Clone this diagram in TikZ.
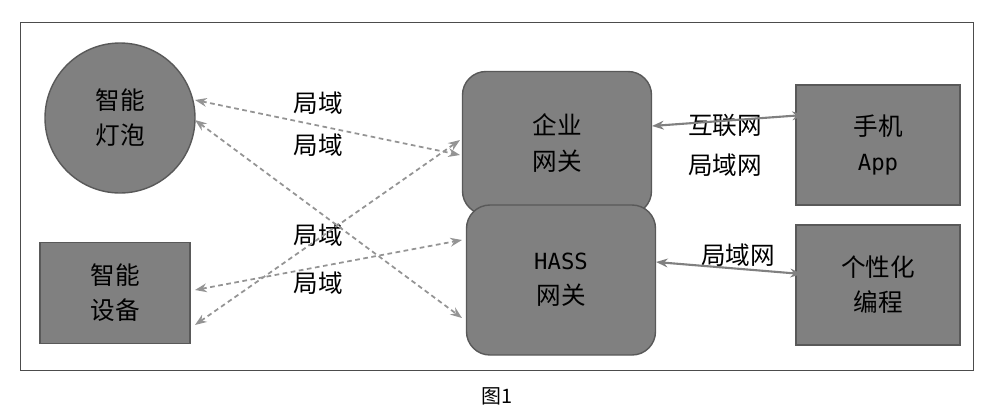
\documentclass[tikz,border=0pt]{standalone}
\usepackage{fontspec}
\setmainfont{Liberation Serif}
\newfontfamily\cjk{Noto Sans CJK SC}
\newfontfamily\monof{DejaVu Sans Mono}
\usetikzlibrary{arrows.meta}
\begin{document}
\begin{tikzpicture}[x=0.03cm,y=-0.03cm,
 box/.style={draw=black!65,line width=1.2pt,fill=black!50,align=center,font=\fontsize{21}{30}\selectfont\cjk},
 da/.style={draw=black!42,line width=1.5pt,dash pattern=on 4pt off 3pt,{Stealth[length=10pt]}-{Stealth[length=10pt]}},
 sa/.style={draw=black!50,line width=1.8pt,{Stealth[length=10pt]}-{Stealth[length=10pt]}},
 lab/.style={font=\fontsize{21}{26}\selectfont\cjk}]
\useasboundingbox (0,0) rectangle (993,418);
\draw[black!70,line width=0.8pt] (20,22) rectangle (973,370);
\node[font=\fontsize{17}{20}\selectfont\cjk] (cap) at (497,396) {图1};
\node[box,circle,minimum size=150*0.03cm,inner sep=0] (bulb) at (120,118) {智能\\灯泡};
\node[box,minimum width=150*0.03cm,minimum height=101*0.03cm] (dev) at (115,293) {智能\\设备};
\node[box,rounded corners=20pt,minimum width=189*0.03cm,minimum height=143*0.03cm] (ent) at (557,143) {企业\\网关};
\node[box,rounded corners=20pt,minimum width=189*0.03cm,minimum height=150*0.03cm] (hass) at (561,280) {\monof\fontsize{19}{30}\selectfont HASS\\\cjk 网关};
\node[box,minimum width=164*0.03cm,minimum height=120*0.03cm] (app) at (878,145) {手机\\\monof\fontsize{19}{30}\selectfont App};
\node[box,minimum width=164*0.03cm,minimum height=120*0.03cm] (prog) at (878,285) {个性化\\编程};
\node[lab] (l1) at (318,103) {局域};
\node[lab] (l2) at (318,145) {局域};
\node[lab] (l3) at (318,235) {局域};
\node[lab] (l4) at (318,283) {局域};
\node[lab] (l5) at (725,125) {互联网};
\node[lab] (l6) at (725,165) {局域网};
\node[lab] (l7) at (738,255) {局域网};
\coordinate (a1) at (195,100); \coordinate (b1) at (460,155);
\coordinate (a2) at (195,120); \coordinate (b2) at (462,318);
\coordinate (a3) at (195,290); \coordinate (b3) at (462,240);
\coordinate (a4) at (195,325); \coordinate (b4) at (460,140);
\draw[da] (a1) -- (b1);
\draw[da] (a2) -- (b2);
\draw[da] (a3) -- (b3);
\draw[da] (a4) -- (b4);
\coordinate (c1) at (652,126); \coordinate (d1) at (804,115);
\coordinate (c2) at (656,262); \coordinate (d2) at (802,274);
\draw[sa] (c1) -- (d1);
\draw[sa] (c2) -- (d2);
\end{tikzpicture}
\end{document}
